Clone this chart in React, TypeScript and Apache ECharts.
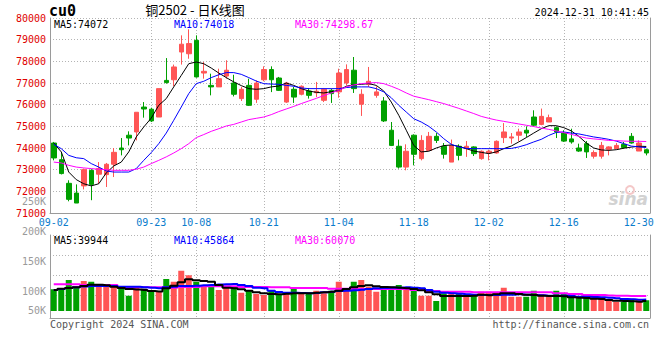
import React, { useEffect, useRef } from "react";
import * as echarts from "echarts";

const dates = [
  "09-02","09-03","09-04","09-05","09-06","09-09","09-10","09-11","09-12","09-13",
  "09-18","09-19","09-20","09-23","09-24","09-25","09-26","09-27","09-30",
  "10-08","10-09","10-10","10-11","10-14","10-15","10-16","10-17","10-18",
  "10-21","10-22","10-23","10-24","10-25","10-28","10-29","10-30","10-31","11-01",
  "11-04","11-05","11-06","11-07","11-08","11-11","11-12","11-13","11-14","11-15",
  "11-18","11-19","11-20","11-21","11-22","11-25","11-26","11-27","11-28","11-29",
  "12-02","12-03","12-04","12-05","12-06","12-09","12-10","12-11","12-12","12-13",
  "12-16","12-17","12-18","12-19","12-20","12-23","12-24","12-25","12-26","12-27",
  "12-30","12-31"
];

const openP = [
  74230,73460,72370,71920,72250,72970,72790,72770,73250,74000,
  74590,74740,75890,75790,75430,77120,77150,78430,78350,78970,
  77460,76890,76820,77320,77000,76280,76890,76250,77150,77620,
  77230,76120,76710,76480,76630,76550,76200,76660,76590,77000,
  77590,76020,76940,76430,76170,74820,74080,73120,74590,73510,
  73890,74540,74080,73350,74080,73970,74050,73510,73770,73770,
  74480,74460,74590,74820,75430,75090,75200,74940,74690,74420,
  74000,74200,73620,73620,73940,73970,74170,74540,73860,73920
];
const closeP = [
  73540,72820,71630,71460,73000,72320,73050,73250,73800,73920,
  74460,75650,75800,75250,76740,77020,77740,78790,78820,77280,
  77540,76820,77200,77590,76480,76710,75970,77000,77620,77150,
  76660,77000,76350,76850,76430,76620,76710,76510,77460,77620,
  76740,76480,77080,76590,75250,74120,73120,73850,73710,74350,
  74540,74350,73710,74120,73660,74080,73740,73850,73850,74310,
  74740,74510,74740,74690,75050,75460,75400,74740,74320,74280,
  73860,73820,73790,74120,74050,74120,74020,74230,74230,73770
];
const lowP = [
  73430,72780,71540,71460,72090,71590,72350,72200,72660,73660,
  74120,74350,75400,75200,75430,76970,76850,77850,78120,77250,
  77200,76430,76820,77200,76380,76170,75940,76080,77080,76580,
  76630,76080,76080,76430,76280,76350,76120,76080,76320,76890,
  76540,75480,76820,76320,75200,74090,73050,72970,73200,73430,
  73860,74230,73510,73350,73430,73590,73630,73460,73430,73740,
  74230,74200,74310,74510,75000,75050,75200,74460,74280,74200,
  73820,73540,73510,73510,73660,73970,73970,74200,73860,73660
];
const highP = [
  74280,73820,72510,72320,73050,73020,73350,73310,74000,74460,
  74770,75650,76120,75860,76740,78150,77850,79200,79480,79200,
  77970,77430,77660,78050,77380,76820,77200,77120,77770,77770,
  77280,77050,76820,76890,76770,77050,76770,76740,77660,77860,
  78200,76710,77740,76850,76350,75200,74390,74170,74630,74590,
  74740,74690,74230,74390,74170,74320,74080,73890,73920,74350,
  75150,74690,74890,75000,75740,75820,75540,75000,74820,74890,
  74200,74320,73890,74280,74080,74230,74280,74690,74350,73970
];

const ma5 = [
  74230,73820,72890,72540,72350,72250,72350,72850,73170,73350,
  73820,74510,74970,75380,75970,76280,76820,77350,77890,77970,
  77890,77690,77460,77250,77050,76880,76740,76710,76740,76820,
  76860,77000,76890,76740,76630,76570,76540,76600,76660,76850,
  76920,76940,76970,76890,76630,76120,75510,74820,74120,73820,
  73850,74000,74110,74140,74080,73970,73860,73800,73740,73820,
  73970,74090,74280,74480,74690,74890,75030,75030,74940,74790,
  74540,74230,74000,73910,73890,73920,73990,74040,74080,74072
];
const ma10 = [
  74170,73970,73660,73550,73510,73280,73120,72940,72890,72890,
  72890,73050,73430,73790,74200,74690,75280,75890,76510,76970,
  77080,77250,77380,77480,77480,77400,77250,77090,76970,76950,
  76940,76890,76850,76770,76740,76740,76740,76740,76740,76790,
  76820,76820,76820,76740,76590,76320,75970,75660,75350,75200,
  75000,74740,74430,74170,74050,73980,73970,73970,73970,73970,
  73970,73980,74050,74150,74280,74400,74580,74720,74740,74690,
  74650,74580,74510,74460,74400,74320,74200,74090,74050,74018
];
const ma30 = [
  73350,73310,73200,73120,73080,73050,73020,73000,72970,72970,
  72970,73020,73120,73280,73430,73590,73770,73970,74200,74480,
  74620,74770,74890,75015,75090,75200,75310,75370,75430,75540,
  75680,75800,75920,76050,76170,76290,76420,76540,76660,76820,
  76910,76970,77000,77020,76970,76850,76710,76540,76390,76310,
  76230,76140,76050,75940,75830,75710,75590,75460,75370,75290,
  75230,75170,75110,75050,74990,74920,74860,74790,74710,74630,
  74540,74460,74420,74390,74350,74340,74320,74310,74310,74298.67
];

const volume = [
  87000,91000,124000,93000,120000,117000,104000,100000,100000,90000,
  61000,100000,90000,80000,80000,128000,117000,161000,143000,117000,
  100000,100000,84000,100000,97000,73000,84000,68000,64000,84000,
  68000,73000,90000,71000,68000,81000,71000,81000,117000,84000,
  117000,124000,97000,77000,90000,97000,104000,90000,90000,61000,
  61000,40000,71000,80000,73000,64000,68000,77000,77000,73000,
  93000,57000,57000,57000,81000,68000,60000,81000,68000,53000,
  60000,68000,61000,49000,40000,36000,36000,49000,48000,43000
];
const volMa5 = [
  84000,89000,92000,95000,100000,105000,105000,103000,97000,92000,
  88000,86000,84000,80000,78000,91000,101000,115000,127000,123000,
  120000,117000,104000,93000,91000,87000,81000,75000,71000,68000,
  67000,69000,71000,71000,71000,73000,75000,77000,81000,88000,
  95000,100000,103000,99000,96000,95000,93000,91000,88000,83000,
  75000,67000,60000,60000,60000,60000,61000,65000,63000,67000,
  71000,71000,68000,65000,64000,61000,60000,60000,59000,55000,
  53000,52000,49000,48000,44000,41000,40000,39000,37000,39944
];
const volMa10 = [
  84000,88000,92000,95000,98000,100000,100000,100000,100000,97000,
  97000,97000,95000,93000,91000,95000,97000,100000,100000,101000,
  103000,104000,106000,107000,108000,104000,100000,93000,91000,81000,
  76000,73000,73000,72000,71000,72000,75000,77000,80000,81000,
  83000,85000,88000,91000,92000,93000,93000,95000,93000,91000,
  84000,77000,73000,71000,69000,67000,65000,64000,64000,64000,
  65000,65000,67000,65000,64000,63000,61000,61000,61000,60000,
  57000,57000,56000,55000,53000,51000,48000,47000,45000,45864
];
const volMa30 = [
  107000,107000,107000,107000,104000,104000,104000,104000,104000,95000,
  95000,95000,95000,95000,95000,93000,93000,96000,96000,96000,
  99000,99000,99000,99000,99000,96000,96000,96000,96000,95000,
  95000,95000,92000,92000,92000,92000,92000,89000,89000,89000,
  89000,88000,88000,88000,88000,88000,88000,88000,84000,84000,
  80000,80000,77000,77000,77000,77000,75000,75000,75000,75000,
  75000,75000,75000,75000,75000,75000,75000,71000,71000,68000,
  68000,64000,64000,64000,62000,61000,61000,60000,60000,60070
];

const xLabelDates = ["09-02", "09-23", "10-08", "10-21", "11-04", "11-18", "12-02", "12-16", "12-30"];
const xGridDates = ["09-23", "10-08", "10-21", "11-04", "11-18", "12-02", "12-16"];
const volGridValues = [64000, 144000, 224000, 304000];
const volAxisLabels = ["250K", "200K", "150K", "100K", "50K"];
const volAxisLabelAt = [250, 200, 150, 100, 67];

const MONO = "DejaVu Sans Mono";
const UP = "#ff5555";
const DOWN = "#00a000";
const GRID = "#b4b4b4";
const BORDER = "#9a9a9a";

function buildOption() {
  const candle = dates.map((_, i) => [openP[i], closeP[i], lowP[i], highP[i]]);
  const volBars = volume.map((v, i) => ({
    value: v,
    itemStyle: { color: closeP[i] >= openP[i] ? UP : DOWN },
  }));
  const showLabel = (i: number) => xLabelDates.indexOf(dates[i]) >= 0;
  const showGrid = (i: number) => xGridDates.indexOf(dates[i]) >= 0;
  const vSplit = {
    show: true,
    interval: (i: number) => showGrid(i),
    alignWithLabel: true,
    lineStyle: { color: GRID, type: [1, 2], width: 1 },
  };
  const txt = (text: string, x: number, y: number, fill: string, align = "left", font = `10px ${MONO}`) => ({
    type: "text",
    x,
    y,
    z: 100,
    style: { text, fill, font, textAlign: align, align, textVerticalAlign: "middle", verticalAlign: "middle" },
  });
  return {
    animation: false,
    backgroundColor: "#ffffff",
    grid: [
      { left: 50, top: 18, width: 600, height: 195 },
      { left: 50, top: 235, width: 600, height: 83 },
      { left: 50, top: 195, width: 600, height: 123 },
    ],
    xAxis: [
      {
        type: "category", gridIndex: 0, data: dates, boundaryGap: true,
        axisLine: { onZero: false, lineStyle: { color: BORDER } },
        axisTick: { show: false },
        axisLabel: { interval: (i: number) => showLabel(i), color: "#0a7ccc", fontFamily: MONO, fontSize: 10, margin: 4 },
        splitLine: vSplit,
      },
      {
        type: "category", gridIndex: 1, data: dates, boundaryGap: true,
        axisLine: { onZero: false, lineStyle: { color: BORDER } },
        axisTick: { show: false },
        axisLabel: { show: false },
        splitLine: vSplit,
      },
      { type: "category", gridIndex: 2, data: dates, show: false },
    ],
    yAxis: [
      {
        type: "value", gridIndex: 0, min: 71000, max: 80000, interval: 1000,
        axisLine: { show: true, lineStyle: { color: BORDER } },
        axisTick: { show: false },
        axisLabel: {
          color: "#e00000", fontFamily: MONO, fontSize: 10, margin: 4,
          padding: [0, 0, 4, 0],
          formatter: (v: number) => String(v),
        },
        splitLine: { show: true, lineStyle: { color: GRID, type: [1, 2] } },
      },
      {
        type: "value", gridIndex: 0, position: "right", min: 71000, max: 80000,
        axisLine: { show: true, lineStyle: { color: BORDER } },
        axisTick: { show: false }, axisLabel: { show: false }, splitLine: { show: false },
      },
      {
        type: "value", gridIndex: 1, min: -28000, max: 304000,
        axisLine: { show: true, lineStyle: { color: BORDER } },
        axisTick: { show: false, customValues: volGridValues },
        axisLabel: { show: false },
        splitLine: { show: true, lineStyle: { color: GRID, type: [1, 2] } },
      },
      {
        type: "value", gridIndex: 1, position: "right", min: -28000, max: 304000,
        axisLine: { show: true, lineStyle: { color: BORDER } },
        axisTick: { show: false }, axisLabel: { show: false }, splitLine: { show: false },
      },
      {
        type: "value", gridIndex: 2, min: 55, max: 260,
        axisLine: { show: false }, axisTick: { show: false }, splitLine: { show: false },
        axisLabel: {
          customValues: volAxisLabelAt,
          formatter: (v: number) => volAxisLabels[volAxisLabelAt.indexOf(v)] ?? "",
          color: "#9a9a9a", fontFamily: MONO, fontSize: 10, margin: 4,
        },
      },
    ],
    series: [
      {
        type: "candlestick", xAxisIndex: 0, yAxisIndex: 0, data: candle, barWidth: 5,
        itemStyle: { color: UP, color0: DOWN, borderColor: UP, borderColor0: DOWN, borderWidth: 1 },
      },
      { type: "line", xAxisIndex: 0, yAxisIndex: 0, data: ma5, showSymbol: false, lineStyle: { color: "#000000", width: 1 }, z: 5 },
      { type: "line", xAxisIndex: 0, yAxisIndex: 0, data: ma10, showSymbol: false, lineStyle: { color: "#0000ff", width: 1 }, z: 5 },
      { type: "line", xAxisIndex: 0, yAxisIndex: 0, data: ma30, showSymbol: false, lineStyle: { color: "#ff00ff", width: 1 }, z: 5 },
      { type: "bar", xAxisIndex: 1, yAxisIndex: 2, data: volBars, barWidth: 6 },
      { type: "line", xAxisIndex: 1, yAxisIndex: 2, data: volMa30, step: "middle", showSymbol: false, lineStyle: { color: "#ff00ff", width: 2 }, z: 5 },
      { type: "line", xAxisIndex: 1, yAxisIndex: 2, data: volMa10, step: "middle", showSymbol: false, lineStyle: { color: "#0000ff", width: 2 }, z: 6 },
      { type: "line", xAxisIndex: 1, yAxisIndex: 2, data: volMa5, step: "middle", showSymbol: false, lineStyle: { color: "#000000", width: 2 }, z: 7 },
    ],
    graphic: [
      txt("cu0", 49, 11, "#000000", "left", `bold 15px ${MONO}`),
      txt("铜2502 - 日K线图", 195, 9, "#000000", "center", `13px "Noto Sans CJK SC"`),
      txt("2024-12-31 10:41:45", 649, 12, "#000000", "right"),
      txt("MA5:74072", 54, 24, "#000000"),
      txt("MA10:74018", 174, 24, "#0000ff"),
      txt("MA30:74298.67", 295, 24, "#ff00ff"),
      txt("MA5:39944", 54, 240, "#000000"),
      txt("MA10:45864", 174, 240, "#0000ff"),
      txt("MA30:60070", 295, 240, "#ff00ff"),
      txt("Copyright 2024 SINA.COM", 50, 324, "#555555"),
      txt("http://finance.sina.com.cn", 649, 324, "#555555", "right"),
      { type: "circle", shape: { cx: 630, cy: 190, r: 4 }, z: 1, style: { fill: "none", stroke: "#f4c8c8", lineWidth: 2 } },
      txt("sina", 648, 199, "#d2d2d2", "right", `italic bold 17px "DejaVu Sans"`),
    ],
  };
}

export default function App() {
  const ref = useRef<HTMLDivElement>(null);
  useEffect(() => {
    if (!ref.current) return;
    const chart = echarts.init(ref.current, null, { renderer: "svg" });
    chart.setOption(buildOption() as any);
    return () => chart.dispose();
  }, []);
  return (
    <div
      ref={ref}
      style={{ position: "absolute", left: 0, top: 0, width: 660, height: 360, background: "#fff" }}
    />
  );
}
